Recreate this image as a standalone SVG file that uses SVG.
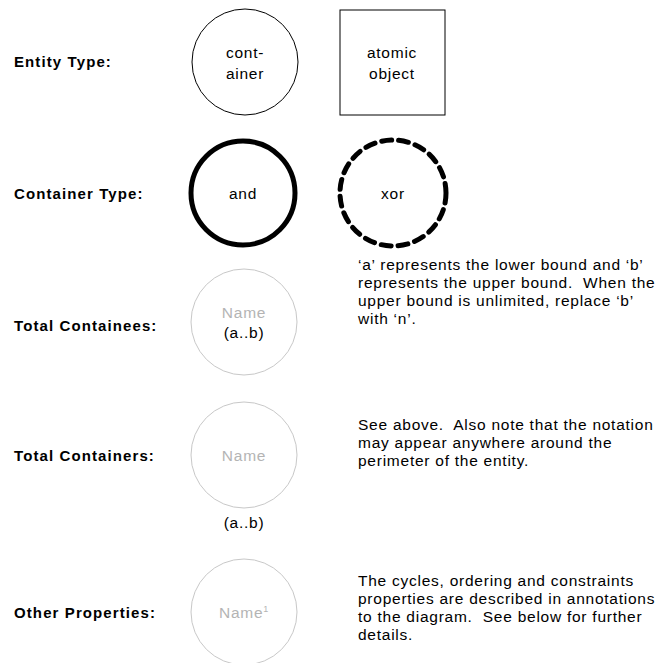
<svg xmlns="http://www.w3.org/2000/svg" width="667" height="663" viewBox="0 0 667 663">
<style>
text { font-family: "Liberation Sans", Arial, sans-serif; font-size: 15.5px; fill: #000; letter-spacing: 0.75px; white-space: pre; }
.lbl { font-weight: bold; font-size: 15px; letter-spacing: 1.1px; }
.mid { text-anchor: middle; }
.grey { fill: #b4b4b4; }
.ent { fill: #fff; stroke: #000; stroke-width: 1; }
.thick { fill: #fff; stroke: #000; stroke-width: 5; }
.dash { fill: #fff; stroke: #000; stroke-width: 5; stroke-dasharray: 10 7; stroke-linecap: round; }
.light { fill: #fff; stroke: #c8c8c8; stroke-width: 1; }
</style>
<rect width="667" height="663" fill="#fff"/>
<g id="labels">
<text class="lbl" x="14" y="67">Entity Type:</text>
<text class="lbl" x="14" y="199">Container Type:</text>
<text class="lbl" x="14" y="331">Total Containees:</text>
<text class="lbl" x="14" y="461">Total Containers:</text>
<text class="lbl" x="14" y="618">Other Properties:</text>
</g>
<g id="container">
<circle class="ent" cx="245" cy="62" r="53"/>
<text class="mid" x="245" y="58">cont-</text>
<text class="mid" x="245" y="79">ainer</text>
</g>
<g id="atomic-object">
<rect class="ent" x="340" y="10" width="105" height="105"/>
<text class="mid" x="392" y="58">atomic</text>
<text class="mid" x="392" y="79">object</text>
</g>
<g id="and">
<circle class="thick" cx="243" cy="193" r="52"/>
<text class="mid" x="243" y="199">and</text>
</g>
<g id="xor">
<circle class="dash" cx="393" cy="193" r="53"/>
<text class="mid" x="393" y="199">xor</text>
</g>
<g id="total-containees">
<circle class="light" cx="244" cy="322" r="53"/>
<text class="mid grey" x="244" y="318">Name</text>
<text class="mid" x="244" y="338">(a..b)</text>
</g>
<g id="desc-containees">
<text x="358" y="270">‘a’ represents the lower bound and ‘b’</text>
<text x="358" y="288">represents the upper bound.  When the</text>
<text x="358" y="306">upper bound is unlimited, replace ‘b’</text>
<text x="358" y="324">with ‘n’.</text>
</g>
<g id="total-containers">
<circle class="light" cx="244" cy="455" r="53"/>
<text class="mid grey" x="244" y="461">Name</text>
<text class="mid" x="244" y="528">(a..b)</text>
</g>
<g id="desc-containers">
<text x="358" y="430">See above.  Also note that the notation</text>
<text x="358" y="448">may appear anywhere around the</text>
<text x="358" y="466">perimeter of the entity.</text>
</g>
<g id="other-properties">
<circle class="light" cx="244" cy="612" r="53"/>
<text class="mid grey" x="244" y="618">Name<tspan font-size="9" dy="-6">1</tspan></text>
</g>
<g id="desc-other">
<text x="358" y="586">The cycles, ordering and constraints</text>
<text x="358" y="604">properties are described in annotations</text>
<text x="358" y="622">to the diagram.  See below for further</text>
<text x="358" y="640">details.</text>
</g>
<g id="connectors"/>
</svg>
